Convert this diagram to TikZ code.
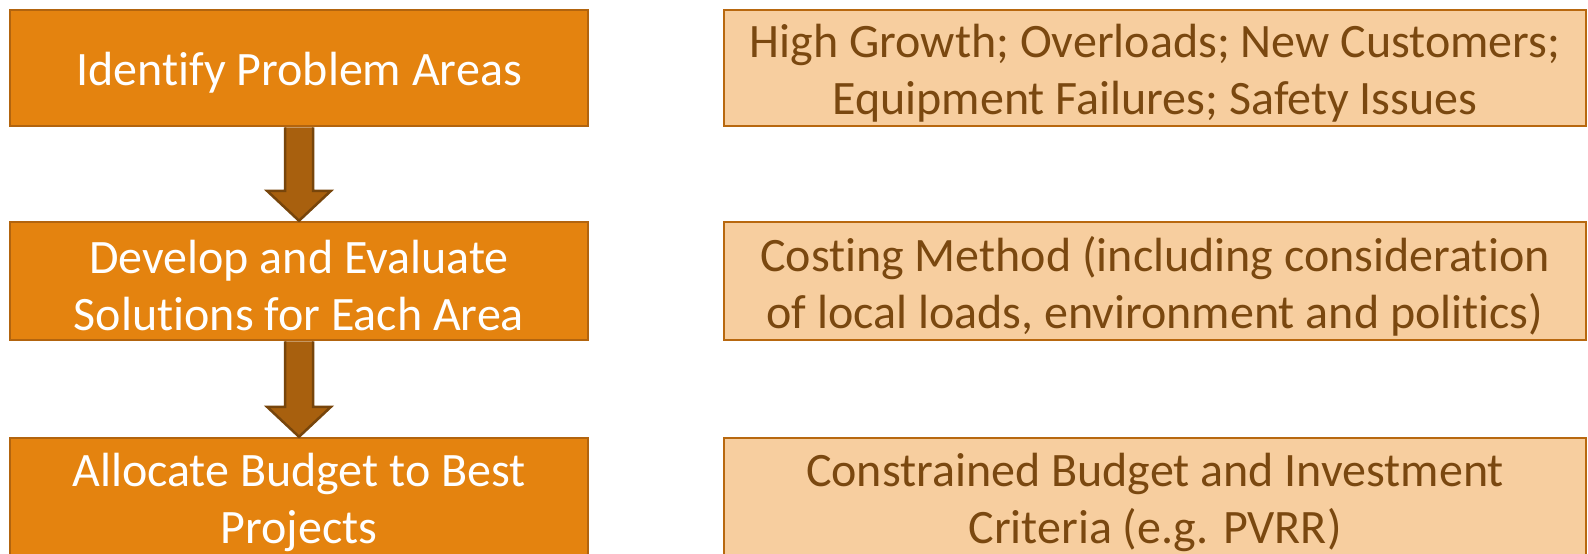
\documentclass[tikz,border=0pt]{standalone}
\usepackage{fontspec}
\setmainfont{Carlito}[Ligatures=NoCommon]
\usetikzlibrary{calc}
\definecolor{boxfill}{HTML}{E4830F}
\definecolor{boxline}{HTML}{B2640E}
\definecolor{arrfill}{HTML}{A8600E}
\definecolor{arrline}{HTML}{77450B}
\definecolor{notefill}{HTML}{F7CE9F}
\definecolor{noteline}{HTML}{B8680F}
\definecolor{notetext}{HTML}{7A4810}
\tikzset{
  boxfont/.style={font=\fontsize{48}{57}\selectfont, align=center, inner sep=0pt},
  stepbox/.style={draw=boxline, line width=2.5pt, fill=boxfill,
    minimum width=578pt, minimum height=116pt, inner sep=0pt,
    label={[boxfont, text=white, yshift=-5pt]center:#1}},
  notebox/.style={draw=noteline, line width=2.5pt, fill=notefill,
    minimum width=862pt, minimum height=116pt, inner sep=0pt,
    label={[boxfont, text=notetext, yshift=-5pt]center:#1}},
  blockarrow/.style={draw=arrline, line width=2.5pt, fill=arrfill, line join=miter}
}
\begin{document}
\begin{tikzpicture}[x=1pt,y=1pt]
\useasboundingbox (0,0) rectangle (1588,-554);
\fill[white] (0,0) rectangle (1588,-554);
\begin{scope}
\clip (0,0) rectangle (1588,-554);
\node[stepbox={Identify Problem Areas}] (s1) at (299,-68) {};
\node[stepbox={Develop and Evaluate\\Solutions for Each Area}, minimum height=118pt] (s2) at (299,-281) {};
\node[stepbox={Allocate Budget to Best\\Projects}, minimum height=118pt] (s3) at (299,-497) {};
\node[notebox={High Growth; Overloads; New Customers;\\Equipment Failures; Safety Issues}] (n1) at (1155,-68) {};
\node[notebox={Costing Method (including consideration\\of local loads, environment and politics)}, minimum height=118pt] (n2) at (1155,-281) {};
\node[notebox={Constrained Budget and Investment\\Criteria (e.g. PVRR)}, minimum height=118pt] (n3) at (1155,-497) {};
\foreach \a/\b in {s1/s2, s2/s3}{
  \draw[blockarrow] ($(\a.south)+(-14,0)$) -- ($(\b.north)+(-14,30)$) -- ($(\b.north)+(-32,30)$)
    -- (\b.north) -- ($(\b.north)+(32,30)$) -- ($(\b.north)+(14,30)$) -- ($(\a.south)+(14,0)$);
}
\end{scope}
\end{tikzpicture}
\end{document}
